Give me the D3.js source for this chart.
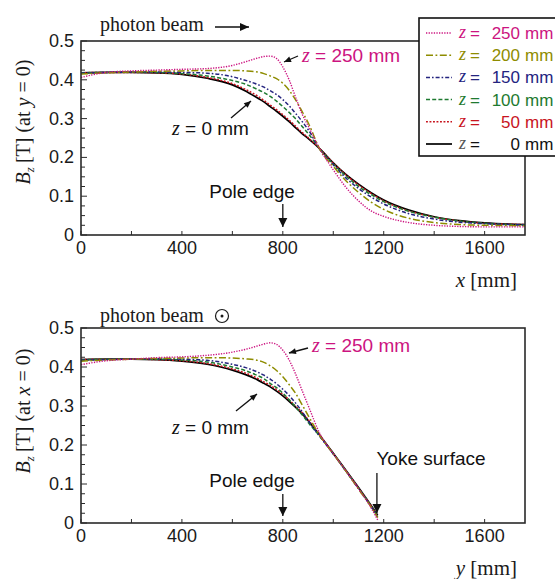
<!DOCTYPE html>
<html>
<head>
<meta charset="utf-8">
<script src="https://cdn.jsdelivr.net/npm/d3@7"></script>
<style>
  html, body { margin: 0; padding: 0; background: #fff; }
  svg { display: block; }
</style>
</head>
<body>
<svg id="chart" width="555" height="579"></svg>
<script>
// Field profiles B_z along x (at y = 0) and along y (at x = 0), for several heights z.
const xTicks = [0, 400, 800, 1200, 1600];
const yTicks = [0, 0.1, 0.2, 0.3, 0.4, 0.5];

// positions along x [mm] for the upper panel
const posX = [0,100,200,300,400,500,600,650,700,725,750,775,800,825,850,875,900,950,1000,1050,1100,1150,1200,1300,1400,1500,1600,1760];
const bxZ0   = [0.418,0.419,0.419,0.418,0.414,0.404,0.387,0.372,0.353,0.343,0.331,0.319,0.306,0.292,0.277,0.262,0.249,0.220,0.186,0.156,0.131,0.109,0.090,0.064,0.047,0.037,0.031,0.027];
const bxZ50  = [0.418,0.419,0.419,0.418,0.415,0.406,0.390,0.376,0.358,0.347,0.335,0.323,0.310,0.296,0.281,0.265,0.251,0.220,0.185,0.155,0.129,0.107,0.088,0.062,0.046,0.036,0.030,0.027];
const bxZ100 = [0.418,0.419,0.420,0.419,0.416,0.410,0.398,0.389,0.375,0.367,0.357,0.345,0.331,0.316,0.300,0.281,0.262,0.219,0.183,0.152,0.125,0.104,0.086,0.061,0.046,0.036,0.030,0.026];
const bxZ150 = [0.417,0.419,0.420,0.420,0.419,0.417,0.408,0.399,0.388,0.381,0.372,0.362,0.349,0.333,0.314,0.294,0.272,0.218,0.181,0.147,0.120,0.098,0.080,0.055,0.041,0.033,0.029,0.026];
const bxZ200 = [0.415,0.418,0.420,0.422,0.423,0.424,0.424,0.423,0.420,0.416,0.410,0.403,0.391,0.373,0.349,0.320,0.290,0.217,0.177,0.140,0.110,0.085,0.066,0.043,0.032,0.027,0.025,0.024];
const bxZ250 = [0.406,0.419,0.423,0.425,0.427,0.429,0.437,0.446,0.456,0.460,0.461,0.455,0.433,0.400,0.356,0.314,0.282,0.218,0.168,0.123,0.088,0.062,0.048,0.032,0.025,0.022,0.021,0.021];

// positions along y [mm] for the lower panel (up to the yoke surface)
const posY = [0,100,200,300,400,500,600,650,700,725,750,775,800,825,850,875,900,950,1000,1050,1100,1150,1176];
const byZ0   = [0.419,0.420,0.420,0.419,0.415,0.407,0.392,0.381,0.367,0.358,0.349,0.338,0.326,0.312,0.297,0.281,0.263,0.222,0.179,0.135,0.091,0.045,0.020];
const byZ50  = [0.419,0.420,0.420,0.419,0.416,0.409,0.395,0.385,0.371,0.362,0.353,0.342,0.330,0.316,0.300,0.284,0.265,0.222,0.178,0.134,0.090,0.044,0.017];
const byZ100 = [0.418,0.420,0.420,0.420,0.418,0.413,0.400,0.391,0.378,0.370,0.358,0.347,0.333,0.316,0.298,0.279,0.258,0.220,0.178,0.134,0.089,0.043,0.016];
const byZ150 = [0.417,0.419,0.420,0.421,0.420,0.417,0.407,0.399,0.387,0.379,0.369,0.357,0.343,0.327,0.308,0.287,0.263,0.219,0.177,0.133,0.088,0.042,0.015];
const byZ200 = [0.415,0.418,0.420,0.422,0.423,0.424,0.423,0.421,0.417,0.412,0.403,0.391,0.375,0.355,0.333,0.305,0.276,0.221,0.177,0.133,0.087,0.041,0.014];
const byZ250 = [0.406,0.416,0.420,0.424,0.426,0.430,0.438,0.445,0.454,0.459,0.462,0.458,0.443,0.418,0.383,0.342,0.302,0.225,0.178,0.134,0.088,0.039,0.008];

const seriesLabels = ["250", "200", "150", "100", "50", "0"];
const styles = {
  "250": { color: "#cc1480", dash: "1.3,1.3", width: 1.4 },
  "200": { color: "#8e8c00", dash: "7,2.5,1.8,2.5", width: 1.5 },
  "150": { color: "#24247f", dash: "4,2,1.6,2", width: 1.5 },
  "100": { color: "#1e7a30", dash: "4,2.2", width: 1.5 },
  "50":  { color: "#c8141e", dash: "1.9,1.6", width: 1.5 },
  "0":   { color: "#000000", dash: null, width: 1.7 }
};
const upperValues = { "250": bxZ250, "200": bxZ200, "150": bxZ150, "100": bxZ100, "50": bxZ50, "0": bxZ0 };
const lowerValues = { "250": byZ250, "200": byZ200, "150": byZ150, "100": byZ100, "50": byZ50, "0": byZ0 };

const svg = d3.select("#chart");
const SANS = "Liberation Sans, Arial, Helvetica, sans-serif";
const SERIF = "Liberation Serif, Times New Roman, serif";

const xScale = d3.scaleLinear().domain([0, 1760]).range([81, 525]);

function arrow(g, x1, y1, x2, y2, len, half) {
  g.append("line").attr("x1", x1).attr("y1", y1).attr("x2", x2).attr("y2", y2)
    .attr("stroke", "#111").attr("stroke-width", 1.3);
  const a = Math.atan2(y2 - y1, x2 - x1);
  const bx = x2 - len * Math.cos(a), by = y2 - len * Math.sin(a);
  const px = -Math.sin(a) * half, py = Math.cos(a) * half;
  g.append("path")
    .attr("d", `M${x2},${y2}L${bx + px},${by + py}L${bx - px},${by - py}Z`)
    .attr("fill", "#111");
}

function zLabel(g, x, y, value, color, size) {
  const t = g.append("text").attr("x", x).attr("y", y).attr("fill", color)
    .attr("font-size", size).attr("font-family", SANS);
  t.append("tspan").attr("font-family", SERIF).attr("font-style", "italic")
    .attr("font-size", size + 1).text("z");
  t.append("tspan").text(" = " + value + " mm");
}

function panel(opts) {
  const g = svg.append("g");
  const y = d3.scaleLinear().domain([0, 0.5]).range([opts.bottom, opts.top]);
  const x0 = xScale.range()[0], x1 = xScale.range()[1];

  const clipId = "clip" + opts.id;
  svg.append("clipPath").attr("id", clipId).append("rect")
    .attr("x", x0).attr("y", opts.top).attr("width", x1 - x0).attr("height", opts.bottom - opts.top);

  // curves, drawn from z = 0 upward so the coloured ones sit on top
  const line = d3.line().x(d => xScale(d[0])).y(d => y(d[1])).curve(d3.curveMonotoneX);
  const order = seriesLabels.slice().reverse();
  order.forEach(k => {
    const s = styles[k];
    const pts = opts.pos.map((p, i) => [p, opts.values[k][i]]);
    g.append("path").attr("clip-path", `url(#${clipId})`)
      .attr("d", line(pts)).attr("fill", "none")
      .attr("stroke", s.color).attr("stroke-width", s.width)
      .attr("stroke-dasharray", s.dash);
  });

  // frame
  g.append("rect").attr("x", x0).attr("y", opts.top).attr("width", x1 - x0)
    .attr("height", opts.bottom - opts.top).attr("fill", "none")
    .attr("stroke", "#2a2a2a").attr("stroke-width", 1.6);

  // y ticks (inward), minor every 0.025
  const yMinor = d3.range(0, 0.5001, 0.025);
  g.selectAll(".ytk").data(yMinor).join("line")
    .attr("x1", x0).attr("x2", (d, i) => x0 + (i % 4 === 0 ? 6 : 4))
    .attr("y1", d => y(d)).attr("y2", d => y(d))
    .attr("stroke", "#2a2a2a").attr("stroke-width", 1);
  g.selectAll(".ytl").data(yTicks).join("text")
    .attr("x", x0 - 7).attr("y", d => y(d) + 6)
    .attr("text-anchor", "end").attr("font-family", SANS).attr("font-size", 18)
    .attr("fill", "#1a1a1a").text(d => d === 0 ? "0" : d3.format(".1f")(d));

  // x ticks (inward) every 200 mm
  const xMinor = d3.range(0, 1760, 200);
  g.selectAll(".xtk").data(xMinor).join("line")
    .attr("x1", d => xScale(d)).attr("x2", d => xScale(d))
    .attr("y1", opts.bottom).attr("y2", opts.bottom - 4)
    .attr("stroke", "#2a2a2a").attr("stroke-width", 1);
  g.selectAll(".xtl").data(xTicks).join("text")
    .attr("x", d => xScale(d)).attr("y", opts.bottom + 19)
    .attr("text-anchor", "middle").attr("font-family", SANS).attr("font-size", 18)
    .attr("fill", "#1a1a1a").text(d => d);

  // axis titles
  const cy = opts.labelCenter;
  const yl = g.append("text").attr("transform", `translate(30,${cy}) rotate(-90)`)
    .attr("text-anchor", "middle").attr("font-family", SERIF).attr("font-size", 20).attr("fill", "#1a1a1a");
  yl.append("tspan").attr("font-style", "italic").text("B");
  yl.append("tspan").attr("font-style", "italic").attr("font-size", 13).attr("dy", 4).text("z");
  yl.append("tspan").attr("dy", -4).text("\u2009[T] (at ");
  yl.append("tspan").attr("font-style", "italic").text(opts.at);
  yl.append("tspan").text(" = 0)");

  const xl = g.append("text").attr("x", 517).attr("y", opts.bottom + 52)
    .attr("text-anchor", "end").attr("font-family", SERIF).attr("font-size", 21).attr("fill", "#1a1a1a");
  xl.append("tspan").attr("font-style", "italic").text(opts.axis);
  xl.append("tspan").text(" [mm]");

  return { g, y };
}

// ---------- upper panel: along x ----------
panel({ id: "U", top: 41, bottom: 235, pos: posX, values: upperValues,
  labelCenter: 122, at: "y", axis: "x" });

// ---------- lower panel: along y ----------
panel({ id: "L", top: 328, bottom: 523, pos: posY, values: lowerValues,
  labelCenter: 411, at: "x", axis: "y" });

const ann = svg.append("g");

// photon beam direction markers
ann.append("text").attr("x", 100).attr("y", 31).attr("font-family", SERIF)
  .attr("font-size", 20).attr("fill", "#1a1a1a").text("photon beam");
arrow(ann, 215, 27, 249, 27, 9, 4);
ann.append("text").attr("x", 100).attr("y", 322).attr("font-family", SERIF)
  .attr("font-size", 20).attr("fill", "#1a1a1a").text("photon beam");
ann.append("circle").attr("cx", 222).attr("cy", 316).attr("r", 6.5)
  .attr("fill", "none").attr("stroke", "#1a1a1a").attr("stroke-width", 1.2);
ann.append("circle").attr("cx", 222).attr("cy", 316).attr("r", 1.5).attr("fill", "#1a1a1a");

// upper panel notes
zLabel(ann, 302, 62, "250", styles["250"].color, 19);
arrow(ann, 298, 56, 284, 62, 7, 3);
zLabel(ann, 172, 135, "0", "#111", 19);
arrow(ann, 231, 118, 251, 101, 7, 3);
ann.append("text").attr("x", 252).attr("y", 198).attr("text-anchor", "middle")
  .attr("font-family", SANS).attr("font-size", 19).attr("fill", "#111").text("Pole edge");
arrow(ann, xScale(800), 204, xScale(800), 227, 9, 4.5);

// lower panel notes
zLabel(ann, 312, 352, "250", styles["250"].color, 19);
arrow(ann, 308, 348, 289, 353, 7, 3);
zLabel(ann, 172, 434, "0", "#111", 19);
arrow(ann, 236, 411, 257, 394, 7, 3);
ann.append("text").attr("x", 252).attr("y", 487).attr("text-anchor", "middle")
  .attr("font-family", SANS).attr("font-size", 19).attr("fill", "#111").text("Pole edge");
arrow(ann, xScale(800), 494, xScale(800), 516, 9, 4.5);
ann.append("text").attr("x", 431).attr("y", 465).attr("text-anchor", "middle")
  .attr("font-family", SANS).attr("font-size", 19).attr("fill", "#111").text("Yoke surface");
arrow(ann, xScale(1173), 473, xScale(1173), 513, 9, 4.5);

// ---------- legend ----------
const leg = svg.append("g");
leg.append("rect").attr("x", 419).attr("y", 18).attr("width", 145).attr("height", 138)
  .attr("fill", "#fff").attr("stroke", "#111").attr("stroke-width", 1.6);
seriesLabels.forEach((k, i) => {
  const s = styles[k];
  const cy = 33 + i * 22.2;
  leg.append("line").attr("x1", 426).attr("x2", 452).attr("y1", cy).attr("y2", cy)
    .attr("stroke", s.color).attr("stroke-width", s.width).attr("stroke-dasharray", s.dash);
  const col = k === "0" ? "#111" : s.color;
  leg.append("text").attr("x", 459).attr("y", cy + 5).attr("font-family", SERIF)
    .attr("font-style", "italic").attr("font-size", 18).attr("fill", k === "0" ? "#555" : col).text("z");
  leg.append("text").attr("x", 470).attr("y", cy + 6).attr("font-family", SANS)
    .attr("font-size", 17).attr("fill", col).text("=");
  leg.append("text").attr("x", 520).attr("y", cy + 6).attr("text-anchor", "end").attr("font-family", SANS)
    .attr("font-size", 17).attr("fill", col).text(k);
  leg.append("text").attr("x", 525).attr("y", cy + 6).attr("font-family", SANS)
    .attr("font-size", 17).attr("fill", col).text("mm");
});
</script>
</body>
</html>
